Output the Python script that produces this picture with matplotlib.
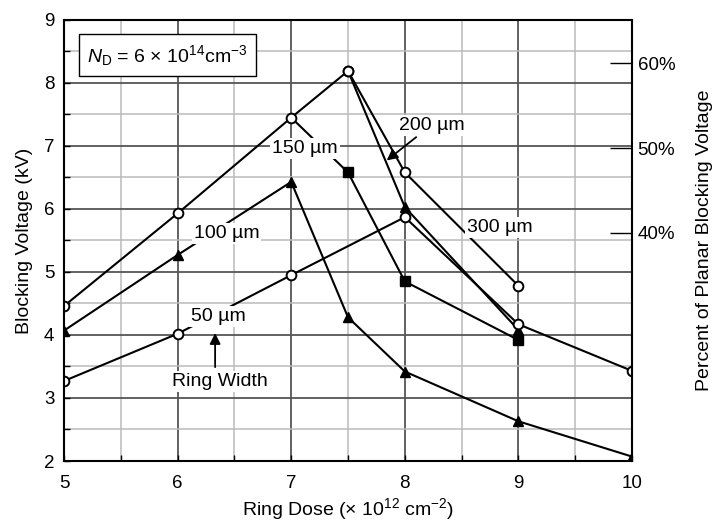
import matplotlib.pyplot as plt
import numpy as np

plt.rcParams['font.family'] = ['Liberation Sans', 'DejaVu Sans']
plt.rcParams['mathtext.fontset'] = 'custom'
plt.rcParams['mathtext.rm'] = 'Liberation Sans'
plt.rcParams['mathtext.it'] = 'Liberation Sans:italic'

# rising part shared by the 150, 200 and 300 um rings
dose_rise = [5, 6, 7, 7.5]
bv_rise = [4.46, 5.93, 7.45, 8.19]

# 300 um
dose_300 = [7.5, 8, 9]
bv_300 = [8.19, 6.58, 4.78]

# 200 um
dose_200 = [7.5, 8, 9]
bv_200 = [8.19, 6.03, 4.08]

# 150 um
dose_150 = [7, 7.5, 8, 9]
bv_150 = [7.45, 6.58, 4.85, 3.92]

# 100 um
dose_100 = [5, 6, 7, 7.5, 8, 9, 10]
bv_100 = [4.07, 5.27, 6.43, 4.28, 3.42, 2.63, 2.07]

# 50 um
dose_50 = [5, 6, 7, 8, 9, 10]
bv_50 = [3.27, 4.02, 4.95, 5.87, 4.17, 3.43]

pct_labels = ['40%', '50%', '60%']
pct_pos = [5.62, 6.96, 8.31]

fig = plt.figure(figsize=(7.17, 5.25), dpi=100)
ax = fig.add_axes([0.0893, 0.1219, 0.7922, 0.8401])

fs = 14
lw = 1.5
ms = 7
ax.plot(dose_300, bv_300, 'k-', lw=lw, marker='o', mfc='white', mec='k', ms=ms, mew=1.4, zorder=3)
ax.plot(dose_200[:2], bv_200[:2], 'k-', lw=lw, zorder=3)
ax.plot(dose_200[1:], bv_200[1:], 'k-', lw=lw, marker='^', ms=ms, zorder=3)
ax.plot(dose_150[:2], bv_150[:2], 'k-', lw=lw, zorder=3)
ax.plot(dose_150[1:], bv_150[1:], 'k-', lw=lw, marker='s', ms=ms, zorder=3)
ax.plot(dose_100, bv_100, 'k-', lw=lw, marker='^', ms=ms, zorder=3)
ax.plot(dose_50, bv_50, 'k-', lw=lw, marker='o', mfc='white', mec='k', ms=ms, mew=1.4, zorder=4)
ax.plot(dose_rise, bv_rise, 'k-', lw=lw, marker='o', mfc='white', mec='k', ms=ms, mew=1.4, zorder=4)

ax.set_xlim(5, 10)
ax.set_ylim(2, 9)
ax.set_xticks(np.arange(5, 11, 1))
ax.set_xticks(np.arange(5, 10.5, 0.5), minor=True)
ax.set_yticks(np.arange(2, 10, 1))
ax.set_yticks(np.arange(2, 9.5, 0.5), minor=True)
ax.grid(which='major', color='#555555', lw=1.3, zorder=0)
ax.grid(which='minor', color='#bbbbbb', lw=1.1, zorder=0)
ax.tick_params(which='both', direction='in', length=4, width=1, labelsize=13.5)
ax.tick_params(axis='x', which='major', pad=10)
ax.tick_params(axis='y', which='major', pad=7)
for s in ax.spines.values():
    s.set_linewidth(1.5)
    s.set_zorder(5)

ax.set_xlabel('Ring Dose (\u00d7 10$^{12}$ cm$^{\u22122}$)', fontsize=fs, labelpad=3)
ax.set_ylabel('Blocking Voltage (kV)', fontsize=fs, labelpad=8)

ax2 = ax.twinx()
ax2.set_ylim(2, 9)
ax2.set_yticks(pct_pos)
ax2.set_yticklabels(pct_labels)
ax2.tick_params(direction='in', length=16, width=1, labelsize=13.5, pad=4)
ax2.set_ylabel('Percent of Planar Blocking Voltage', fontsize=fs, labelpad=15)
for s in ax2.spines.values():
    s.set_visible(False)

wbox = dict(facecolor='white', edgecolor='none', pad=1.5)
ax.text(5.91, 8.44, '$N_{\\mathrm{D}}$ = 6 \u00d7 10$^{14}$cm$^{\u22123}$', fontsize=fs,
        ha='center', va='center', zorder=6,
        bbox=dict(facecolor='white', edgecolor='black', lw=1, pad=6))
ax.text(7.12, 6.96, '150 \u00b5m', fontsize=fs, ha='center', va='center', bbox=wbox, zorder=6)
ax.text(6.43, 5.61, '100 \u00b5m', fontsize=fs, ha='center', va='center', bbox=wbox, zorder=6)
ax.text(6.36, 4.29, '50 \u00b5m', fontsize=fs, ha='center', va='center', bbox=wbox, zorder=6)
ax.text(8.84, 5.71, '300 \u00b5m', fontsize=fs, ha='center', va='center', bbox=wbox, zorder=6)
ax.text(8.24, 7.32, '200 \u00b5m', fontsize=fs, ha='center', va='center', bbox=wbox, zorder=6)
ax.text(6.37, 3.26, 'Ring Width', fontsize=fs, ha='center', va='center', bbox=wbox, zorder=6)

ax.annotate('', xy=(7.84, 6.77), xytext=(8.10, 7.14),
            arrowprops=dict(arrowstyle='-|>', color='k', lw=1.3, mutation_scale=16,
                            shrinkA=0, shrinkB=0), zorder=6)
ax.annotate('', xy=(6.33, 4.03), xytext=(6.33, 3.49),
            arrowprops=dict(arrowstyle='-|>', color='k', lw=1.3, mutation_scale=16,
                            shrinkA=0, shrinkB=0), zorder=6)

fig.savefig('out.png', dpi=100)
